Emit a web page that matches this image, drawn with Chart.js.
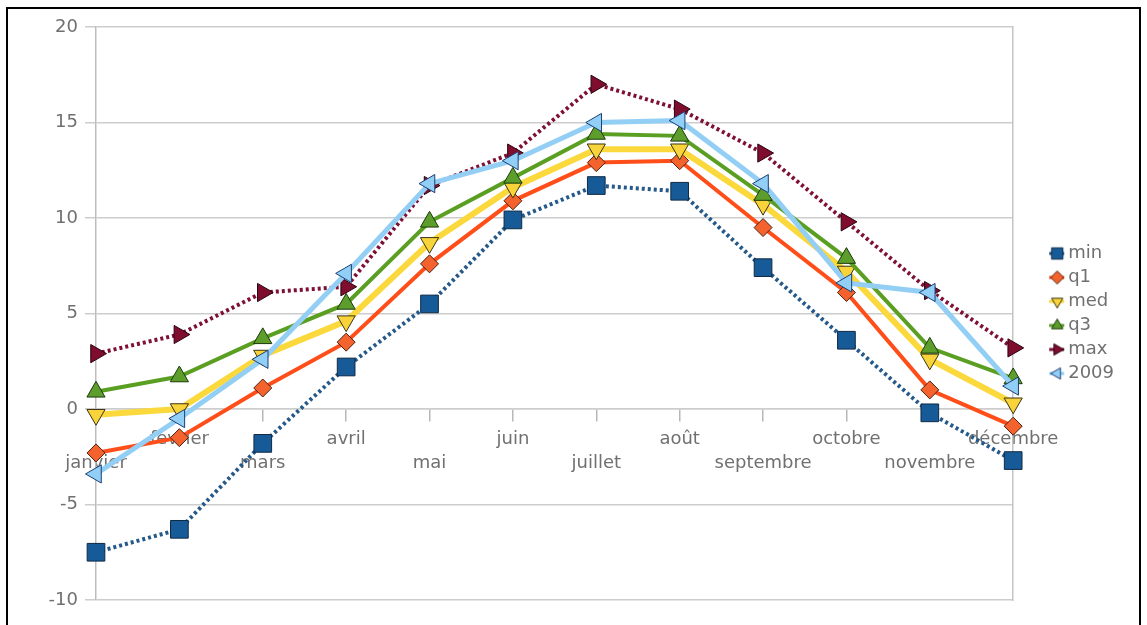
<!DOCTYPE html>
<html>
<head>
<meta charset="utf-8">
<title>Températures mensuelles</title>
<script src="https://cdn.jsdelivr.net/npm/chart.js@4.4.1/dist/chart.umd.min.js"></script>
<style>
  html, body { margin: 0; padding: 0; background: #ffffff; }
  #wrap { position: relative; width: 1147px; height: 625px; }
</style>
</head>
<body>
<div id="wrap"><canvas id="chart" width="1147" height="625"></canvas></div>
<script>
// Monthly temperature statistics (°C)
const months = ['janvier', 'février', 'mars', 'avril', 'mai', 'juin', 'juillet', 'août', 'septembre', 'octobre', 'novembre', 'décembre'];
const seriesNames = ['min', 'q1', 'med', 'q3', 'max', '2009'];
const minTemp = [-7.5, -6.3, -1.8, 2.2, 5.5, 9.9, 11.7, 11.4, 7.4, 3.6, -0.2, -2.7];
const q1Temp  = [-2.3, -1.5, 1.1, 3.5, 7.6, 10.9, 12.9, 13.0, 9.5, 6.1, 1.0, -0.9];
const medTemp = [-0.3, 0.0, 2.8, 4.6, 8.7, 11.6, 13.6, 13.6, 10.7, 7.2, 2.6, 0.3];
const q3Temp  = [0.9, 1.7, 3.7, 5.5, 9.8, 12.1, 14.4, 14.3, 11.2, 7.9, 3.2, 1.6];
const maxTemp = [2.9, 3.9, 6.1, 6.4, 11.7, 13.4, 17.0, 15.7, 13.4, 9.8, 6.2, 3.2];
const temp2009 = [-3.4, -0.5, 2.6, 7.1, 11.8, 13.0, 15.0, 15.1, 11.8, 6.6, 6.1, 1.2];
const yTickValues = [-10, -5, 0, 5, 10, 15, 20];

const FONT = 'DejaVu Sans';
const TEXT = '#707070';
const GRID = '#cdcdcd';

function makeSeries(label, data, line, fill, edge, shape, rotation, radius, width, dashed) {
  return {
    label: label,
    data: data,
    borderColor: line,
    borderWidth: width,
    borderDash: dashed ? [3, 3] : [],
    borderCapStyle: 'butt',
    tension: 0,
    fill: false,
    clip: false,
    pointStyle: shape,
    pointRotation: rotation,
    pointRadius: radius,
    pointHoverRadius: radius,
    pointBackgroundColor: fill,
    pointBorderColor: edge,
    pointBorderWidth: 1,
    legendFill: fill,
    legendEdge: edge
  };
}

// later series drawn on top (lower order = drawn last)
const datasets = [
  makeSeries(seriesNames[0], minTemp, '#24598a', '#175a98', '#0f2a44', 'rect', 0, 12.5, 4, true),
  makeSeries(seriesNames[1], q1Temp, '#ff4e1a', '#f4622e', '#4a2210', 'rectRot', 0, 9, 4, false),
  makeSeries(seriesNames[2], medTemp, '#fbd83c', '#f8d33a', '#3a3414', 'triangle', 180, 10.5, 6, false),
  makeSeries(seriesNames[3], q3Temp, '#5a9e22', '#5c9d2c', '#1c3a0c', 'triangle', 0, 10.5, 4, false),
  makeSeries(seriesNames[4], maxTemp, '#7e1035', '#7e0d2e', '#2a0410', 'triangle', 90, 10.5, 4, true),
  makeSeries(seriesNames[5], temp2009, '#93cff5', '#92cff7', '#1c3f72', 'triangle', 270, 10.5, 5, false)
];
datasets.forEach((d, i) => { d.order = datasets.length - i; });

// small legend glyph: short line stub with the series marker
function legendGlyph(ds) {
  const c = document.createElement('canvas');
  c.width = 26; c.height = 18;
  const g = c.getContext('2d');
  g.strokeStyle = ds.borderColor;
  g.lineWidth = 3;
  g.beginPath(); g.moveTo(1, 9); g.lineTo(20, 9); g.stroke();
  g.fillStyle = ds.legendFill;
  g.strokeStyle = ds.legendEdge;
  g.lineWidth = 1;
  Chart.helpers.drawPoint(g, {
    pointStyle: ds.pointStyle,
    rotation: ds.pointRotation,
    radius: ds.pointStyle === 'rect' ? 8 : 6.5,
    borderWidth: 1
  }, 13, 9);
  return c;
}

const framePlugin = {
  id: 'frame',
  afterDraw(chart) {
    const ctx = chart.ctx;
    ctx.save();
    ctx.fillStyle = '#000000';
    ctx.fillRect(6, 7, 1135, 2);
    ctx.fillRect(6, 7, 2, 618);
    ctx.fillRect(1139, 7, 2, 618);
    ctx.restore();
  }
};

new Chart(document.getElementById('chart'), {
  type: 'line',
  data: { labels: months, datasets: datasets },
  plugins: [framePlugin],
  options: {
    responsive: false,
    devicePixelRatio: 1,
    animation: false,
    events: [],
    layout: { padding: { left: 0, top: 27, right: 23, bottom: 25 } },
    plugins: {
      tooltip: { enabled: false },
      title: { display: false },
      legend: {
        display: true,
        position: 'right',
        align: 'center',
        labels: {
          usePointStyle: true,
          pointStyleWidth: 4,
          padding: 6,
          color: TEXT,
          font: { family: FONT, size: 18 },
          generateLabels(chart) {
            return chart.data.datasets.map((ds, i) => ({
              text: ds.label,
              pointStyle: legendGlyph(ds),
              rotation: 0,
              datasetIndex: i,
              hidden: false,
              lineWidth: 0,
              fillStyle: ds.borderColor,
              strokeStyle: ds.borderColor,
              fontColor: TEXT
            }));
          }
        }
      }
    },
    scales: {
      x: {
        type: 'category',
        position: { y: 0 },
        offset: false,
        grid: { display: true, drawOnChartArea: false, drawTicks: true, tickLength: 12, color: '#b8b8b8', lineWidth: 1.5 },
        border: { display: true, color: GRID, width: 1.5 },
        ticks: {
          autoSkip: false,
          maxRotation: 0,
          minRotation: 0,
          padding: 6,
          color: TEXT,
          font: { family: FONT, size: 18, lineHeight: '24px' },
          callback(value, index) {
            const name = months[index];
            return index % 2 === 0 ? ['', name] : [name];
          }
        }
      },
      y: {
        type: 'linear',
        position: 'left',
        min: yTickValues[0],
        max: yTickValues[yTickValues.length - 1],
        afterBuildTicks(scale) { scale.ticks = yTickValues.map(v => ({ value: v })); },
        afterFit(scale) { scale.width = 96; },
        grid: { color: GRID, lineWidth: 1.5, tickLength: 11, drawTicks: true },
        border: { display: true, color: '#bdbdbd', width: 1.5 },
        ticks: { padding: 7, color: TEXT, font: { family: FONT, size: 18 } }
      },
      yRight: {
        type: 'linear',
        position: 'right',
        min: yTickValues[0],
        max: yTickValues[yTickValues.length - 1],
        afterFit(scale) { scale.width = 36; },
        grid: { display: false, drawTicks: false },
        border: { display: true, color: '#c4c4c4', width: 1.5 },
        ticks: { display: false }
      }
    }
  }
});
</script>
</body>
</html>
